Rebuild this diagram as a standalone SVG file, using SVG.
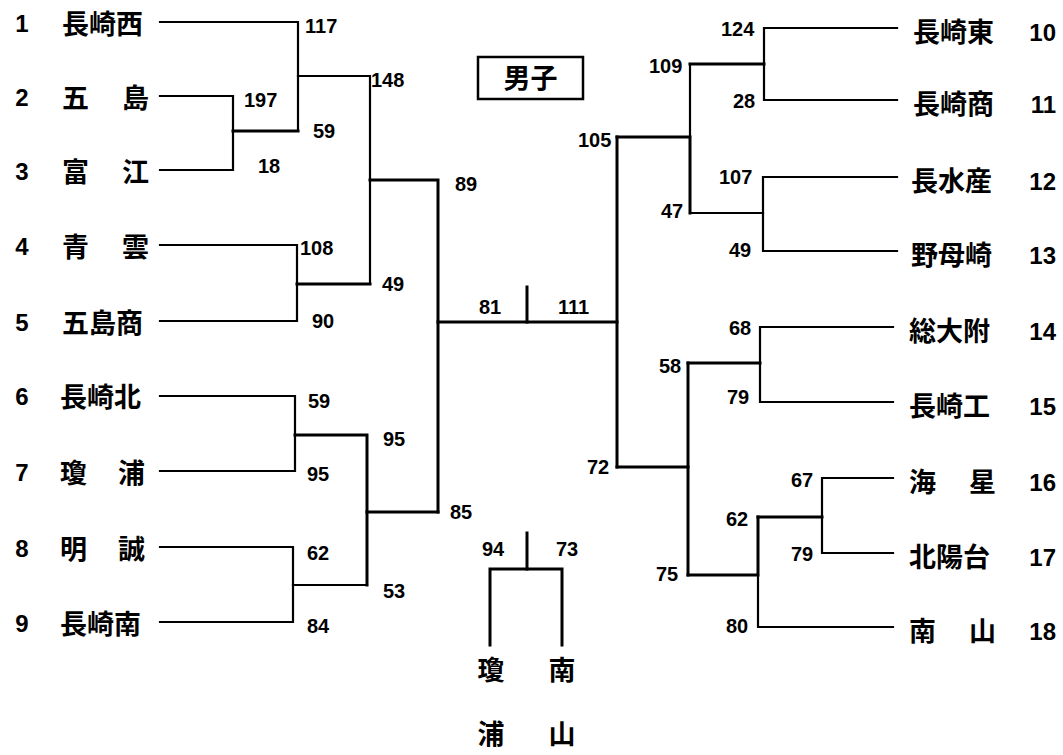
<svg xmlns="http://www.w3.org/2000/svg" width="1063" height="755" viewBox="0 0 1063 755">
<style>
.bg{fill:#fff}
.ln{fill:none;stroke:#000;stroke-width:2.2;stroke-linecap:square;stroke-linejoin:miter}
.tk{fill:none;stroke:#000;stroke-width:3;stroke-linecap:square;stroke-linejoin:miter}
.nm{font-family:"Noto Sans CJK JP","Noto Sans CJK SC",sans-serif;font-weight:bold;font-size:27px;fill:#000}
.no{font-family:"Liberation Sans",Arial,sans-serif;font-weight:bold;font-size:24px;fill:#000}
.sc{font-family:"Liberation Sans",Arial,sans-serif;font-weight:bold;font-size:20px;fill:#000}
</style>
<rect class="bg" x="0" y="0" width="1063" height="755"/>
<g id="title">
<rect x="478" y="57" width="105" height="42" fill="none" stroke="#000" stroke-width="2.5"/>
<text class="nm" x="530.5" y="88" text-anchor="middle">男子</text>
</g>
<g id="connectors">
<path class="ln" d="M160 22 H298 V131"/>
<path class="ln" d="M160 96 H233 V170 H160"/>
<path class="tk" d="M233 131 H298"/>
<path class="ln" d="M298 76 H370 V284"/>
<path class="ln" d="M160 245 H297 V321 H160"/>
<path class="tk" d="M297 284 H370"/>
<path class="tk" d="M370 180 H438 V512"/>
<path class="ln" d="M160 396 H295 V471 H160"/>
<path class="tk" d="M295 435 H367 V585"/>
<path class="ln" d="M160 547 H293 V622 H160"/>
<path class="ln" d="M293 585 H367"/>
<path class="tk" d="M367 512 H438"/>
<path class="tk" d="M438 322 H617"/>
<path class="tk" d="M527 287 V322"/>
<path class="tk" d="M617 137 V467"/>
<path class="tk" d="M617 137 H690 V213"/>
<path class="ln" d="M690 64 V137"/>
<path class="tk" d="M690 64 H764"/>
<path class="ln" d="M897 28 H764 V100 H897"/>
<path class="ln" d="M690 213 H763"/>
<path class="ln" d="M897 177 H763 V251 H897"/>
<path class="tk" d="M617 467 H688"/>
<path class="tk" d="M688 363 V575"/>
<path class="tk" d="M688 363 H760"/>
<path class="ln" d="M893 327 H760 V402 H893"/>
<path class="tk" d="M688 575 H758 V517"/>
<path class="ln" d="M758 575 V627 H893"/>
<path class="tk" d="M758 517 H822"/>
<path class="ln" d="M893 478 H822 V553 H893"/>
<path class="tk" d="M527 533 V569"/>
<path class="tk" d="M490 645 V569 H562 V645"/>
</g>
<g id="scores">
<text class="sc" x="305" y="33">117</text>
<text class="sc" x="244" y="107">197</text>
<text class="sc" x="313" y="138">59</text>
<text class="sc" x="258" y="173">18</text>
<text class="sc" x="371" y="87">148</text>
<text class="sc" x="300" y="255">108</text>
<text class="sc" x="312" y="328">90</text>
<text class="sc" x="382" y="291">49</text>
<text class="sc" x="455" y="191">89</text>
<text class="sc" x="308" y="408">59</text>
<text class="sc" x="307" y="481">95</text>
<text class="sc" x="383" y="446">95</text>
<text class="sc" x="307" y="560">62</text>
<text class="sc" x="307" y="633">84</text>
<text class="sc" x="383" y="598">53</text>
<text class="sc" x="450" y="519">85</text>
<text class="sc" x="479" y="314">81</text>
<text class="sc" x="558" y="314">111</text>
<text class="sc" x="578" y="147">105</text>
<text class="sc" x="649" y="73">109</text>
<text class="sc" x="721" y="36">124</text>
<text class="sc" x="733" y="108">28</text>
<text class="sc" x="719" y="184">107</text>
<text class="sc" x="661" y="218">47</text>
<text class="sc" x="729" y="257">49</text>
<text class="sc" x="729" y="335">68</text>
<text class="sc" x="727" y="404">79</text>
<text class="sc" x="659" y="373">58</text>
<text class="sc" x="587" y="474">72</text>
<text class="sc" x="791" y="487">67</text>
<text class="sc" x="726" y="526">62</text>
<text class="sc" x="791" y="561">79</text>
<text class="sc" x="656" y="581">75</text>
<text class="sc" x="726" y="633">80</text>
<text class="sc" x="482" y="556">94</text>
<text class="sc" x="556" y="556">73</text>
</g>
<g id="team1"><text class="no" x="22" y="32" text-anchor="middle">1</text><text class="nm" x="62" y="34">長崎西</text></g>
<g id="team2"><text class="no" x="22" y="106" text-anchor="middle">2</text><text class="nm" x="62" y="108">五</text><text class="nm" x="122" y="108">島</text></g>
<g id="team3"><text class="no" x="22" y="180" text-anchor="middle">3</text><text class="nm" x="62" y="182">富</text><text class="nm" x="122" y="182">江</text></g>
<g id="team4"><text class="no" x="22" y="255" text-anchor="middle">4</text><text class="nm" x="62" y="257">青</text><text class="nm" x="122" y="257">雲</text></g>
<g id="team5"><text class="no" x="22" y="331" text-anchor="middle">5</text><text class="nm" x="62" y="333">五島商</text></g>
<g id="team6"><text class="no" x="22" y="405" text-anchor="middle">6</text><text class="nm" x="60" y="407">長崎北</text></g>
<g id="team7"><text class="no" x="22" y="481" text-anchor="middle">7</text><text class="nm" x="60" y="483">瓊</text><text class="nm" x="118" y="483">浦</text></g>
<g id="team8"><text class="no" x="22" y="557" text-anchor="middle">8</text><text class="nm" x="60" y="559">明</text><text class="nm" x="118" y="559">誠</text></g>
<g id="team9"><text class="no" x="22" y="632" text-anchor="middle">9</text><text class="nm" x="60" y="634">長崎南</text></g>
<g id="team10"><text class="nm" x="913" y="42">長崎東</text><text class="no" x="1056" y="41" text-anchor="end">10</text></g>
<g id="team11"><text class="nm" x="913" y="114">長崎商</text><text class="no" x="1056" y="113" text-anchor="end">11</text></g>
<g id="team12"><text class="nm" x="911" y="191">長水産</text><text class="no" x="1056" y="190" text-anchor="end">12</text></g>
<g id="team13"><text class="nm" x="911" y="265">野母崎</text><text class="no" x="1056" y="264" text-anchor="end">13</text></g>
<g id="team14"><text class="nm" x="909" y="341">総大附</text><text class="no" x="1056" y="340" text-anchor="end">14</text></g>
<g id="team15"><text class="nm" x="909" y="416">長崎工</text><text class="no" x="1056" y="415" text-anchor="end">15</text></g>
<g id="team16"><text class="nm" x="909" y="492">海</text><text class="nm" x="969" y="492">星</text><text class="no" x="1056" y="491" text-anchor="end">16</text></g>
<g id="team17"><text class="nm" x="909" y="567">北陽台</text><text class="no" x="1056" y="566" text-anchor="end">17</text></g>
<g id="team18"><text class="nm" x="909" y="641">南</text><text class="nm" x="969" y="641">山</text><text class="no" x="1056" y="640" text-anchor="end">18</text></g>
<g id="third-left"><text class="nm" x="491" y="680" text-anchor="middle">瓊</text><text class="nm" x="491" y="744" text-anchor="middle">浦</text></g>
<g id="third-right"><text class="nm" x="562" y="680" text-anchor="middle">南</text><text class="nm" x="562" y="744" text-anchor="middle">山</text></g>
</svg>
